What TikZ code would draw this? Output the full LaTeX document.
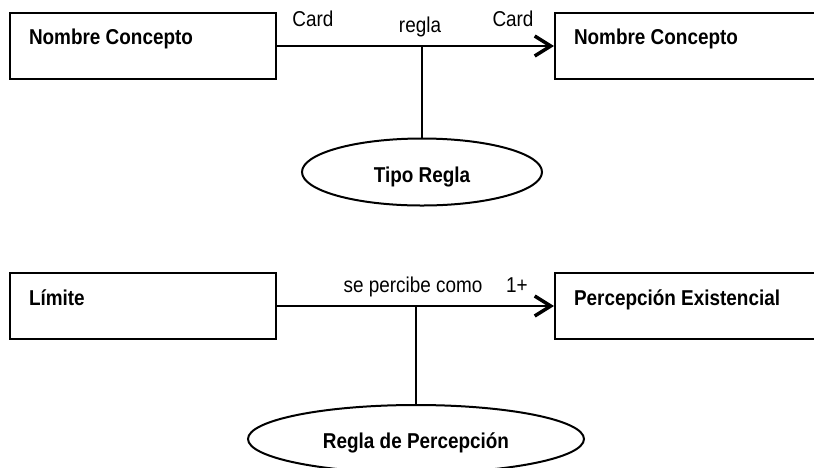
\documentclass[tikz,border=0pt]{standalone}
\usepackage{fontspec}
\setmainfont{Liberation Sans}[FakeStretch=0.88]
\usetikzlibrary{shapes.geometric,arrows.meta}

\tikzset{every picture/.style={line width=2pt}}
\tikzset{
  concept/.style={draw,rectangle,minimum width=266,minimum height=66,inner sep=0pt},
  rulebox/.style={draw,ellipse,inner sep=0pt},
  cname/.style={inner sep=0pt,font=\fontsize{21.5}{24}\selectfont\bfseries},
  rlabel/.style={inner sep=0pt,font=\fontsize{21.5}{24}\selectfont},
  relation/.style={-{Straight Barb[length=16pt,width=20pt,line width=3.5pt]}}
}

\begin{document}
\begin{tikzpicture}[x=1pt,y=1pt,yscale=-1,xscale=1]
\useasboundingbox (0,0) rectangle (814,467);
\clip (0,0) rectangle (814,467);

%Shape: Rectangle
\node [concept] (ncA) at (143,46) {};
%Shape: Rectangle
\node [concept,minimum width=300] (ncB) at (705,46) {};
%Shape: Ellipse
\node [rulebox,minimum width=240,minimum height=67] (tipo) at (422,172) {};
%Straight Lines
\draw [relation] (ncA.east) -- (ncB.west);
\coordinate (rA) at (422,46);
\draw (rA) -- (tipo);

% Text Node
\node [cname,anchor=base west] (ncAT) at (28,44) {Nombre Concepto};
% Text Node
\node [cname,anchor=base west] (ncBT) at (573,44) {Nombre Concepto};
% Text Node
\node [cname,anchor=base] (tipoT) at (422,182) {Tipo Regla};
% Text Node
\node [rlabel,anchor=base] (cardA) at (313,26) {Card};
% Text Node
\node [rlabel,anchor=base] (regla) at (420,32) {regla};
% Text Node
\node [rlabel,anchor=base] (cardB) at (513,26) {Card};

%Shape: Rectangle
\node [concept] (lim) at (143,306) {};
%Shape: Rectangle
\node [concept,minimum width=300] (perc) at (705,306) {};
%Shape: Ellipse
\node [rulebox,minimum width=336,minimum height=68] (rperc) at (416,439) {};
%Straight Lines
\draw [relation] (lim.east) -- (perc.west);
\coordinate (rB) at (416,306);
\draw (rB) -- (rperc);

% Text Node
\node [cname,anchor=base west] (limT) at (28,305) {Límite};
% Text Node
\node [cname,anchor=base west] (percT) at (573,305) {Percepción Existencial};
% Text Node
\node [cname,anchor=base] (rpercT) at (416,448) {Regla de Percepción};
% Text Node
\node [rlabel,anchor=base] (sepc) at (413,292) {se percibe como};
% Text Node
\node [rlabel,anchor=base] (card1) at (517,292) {1+};

\end{tikzpicture}
\end{document}
